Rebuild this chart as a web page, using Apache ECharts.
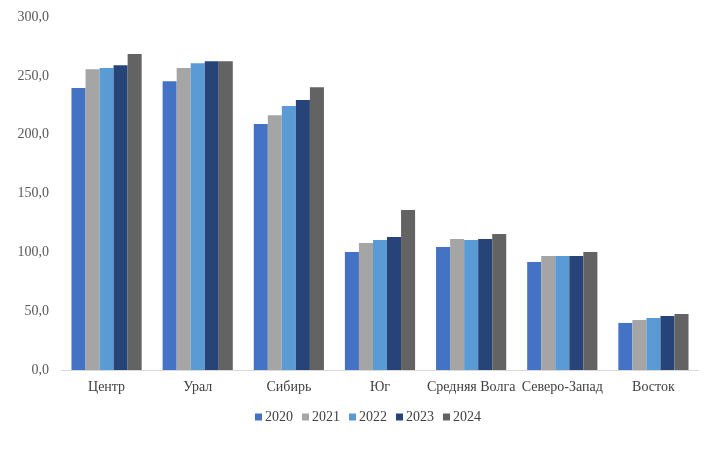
<!DOCTYPE html>
<html><head><meta charset="utf-8">
<script src="https://cdn.jsdelivr.net/npm/echarts@6/dist/echarts.min.js"></script>
<style>html,body{margin:0;padding:0;background:#fff}#c{width:718px;height:450px}</style>
</head><body><div id="c"></div>
<script>
var categories = ['Центр','Урал','Сибирь','Юг','Средняя Волга','Северо-Запад','Восток'];
var years = ['2020','2021','2022','2023','2024'];
var v2020 = [239.6, 245.5, 209.0, 100.3, 104.5, 91.8, 40.0];
var v2021 = [255.7, 256.6, 216.6, 107.9, 111.3, 96.9, 42.5];
var v2022 = [256.6, 260.8, 224.3, 110.5, 110.5, 96.9, 44.2];
var v2023 = [259.0, 262.5, 229.4, 113.0, 111.3, 96.9, 45.9];
var v2024 = [268.5, 262.5, 240.4, 136.0, 115.5, 100.3, 47.6];
var colors = ['#4472C4','#A5A5A5','#5B9BD5','#264478','#636363'];
var all = [v2020, v2021, v2022, v2023, v2024];
var font = 'Liberation Serif';
var chart = echarts.init(document.getElementById('c'));
chart.setOption({
  animation: false,
  textStyle: {fontFamily: font},
  legend: {
    bottom: 26, left: 255, padding: 0, itemWidth: 7, itemHeight: 7, itemGap: 9,
    icon: 'rect',
    textStyle: {fontFamily: font, fontSize: 14, color: '#404040', padding: [0,0,0,-2]},
    data: years
  },
  grid: {left: 61, right: 19, top: 17, bottom: 80, containLabel: false},
  xAxis: {
    type: 'category', data: categories,
    axisLine: {lineStyle: {color: '#D9D9D9', width: 1}},
    axisTick: {show: false},
    axisLabel: {fontFamily: font, fontSize: 14, color: '#404040', margin: 10, interval: 0}
  },
  yAxis: {
    type: 'value', min: 0, max: 300, interval: 50,
    axisLine: {show: false}, axisTick: {show: false},
    splitLine: {show: false},
    axisLabel: {fontFamily: font, fontSize: 14, color: '#595959', margin: 12,
      formatter: function(v){ return v.toFixed(1).replace('.', ','); }}
  },
  series: years.map(function(y, i){
    return {name: y, type: 'bar', data: all[i], itemStyle: {color: colors[i]},
      barGap: '0%', barCategoryGap: '23%'};
  })
});
</script></body></html>
